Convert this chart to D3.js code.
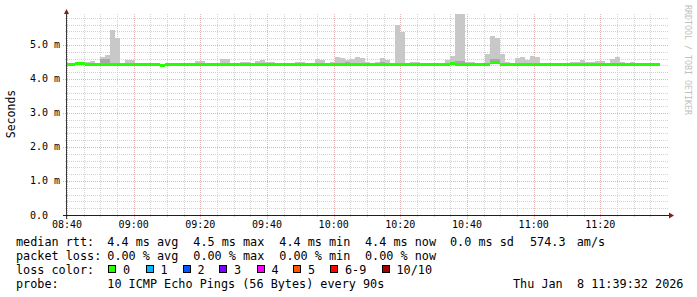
<!DOCTYPE html>
<html>
<head>
<meta charset="utf-8">
<script src="https://cdn.jsdelivr.net/npm/d3@7"></script>
<style>
  body { margin: 0; background: #fff; }
  text { font-family: "DejaVu Sans Mono", monospace; fill: #000; white-space: pre; }
</style>
</head>
<body>
<script>
// 90 s steps, first step starts at 08:39:24
const firstStep = [8, 39, 24];
const stepSeconds = 90;

// median rtt per step (ms)
const rttMedian = [
  4.43, 4.43, 4.44, 4.44, 4.43, 4.43, 4.42, 4.43, 4.43, 4.42,
  4.43, 4.42, 4.43, 4.43, 4.43, 4.43, 4.43, 4.43, 4.43, 4.41,
  4.43, 4.43, 4.43, 4.42, 4.43, 4.43, 4.43, 4.43, 4.43, 4.43,
  4.43, 4.43, 4.43, 4.43, 4.43, 4.43, 4.43, 4.43, 4.43, 4.43,
  4.43, 4.43, 4.43, 4.43, 4.42, 4.43, 4.43, 4.43, 4.43, 4.43,
  4.43, 4.43, 4.43, 4.43, 4.43, 4.43, 4.43, 4.43, 4.43, 4.43,
  4.43, 4.43, 4.42, 4.43, 4.43, 4.42, 4.43, 4.43, 4.42, 4.43,
  4.43, 4.43, 4.43, 4.43, 4.43, 4.43, 4.43, 4.46, 4.43, 4.43,
  4.42, 4.43, 4.43, 4.43, 4.43, 4.47, 4.47, 4.43, 4.43, 4.42,
  4.43, 4.43, 4.43, 4.43, 4.43, 4.43, 4.43, 4.43, 4.43, 4.43,
  4.43, 4.43, 4.43, 4.42, 4.43, 4.43, 4.43, 4.43, 4.43, 4.43,
  4.43, 4.43, 4.43, 4.43, 4.43, 4.43, 4.43, 4.43, 4.43
];

// highest ping per step (ms)
const rttMax = [
  4.45, 4.45, 4.45, 4.46, 4.49, 4.53, 4.46, 4.65, 4.71, 5.44,
  5.21, 4.45, 4.56, 4.56, 4.45, 4.45, 4.45, 4.46, 4.45, 4.45,
  4.48, 4.45, 4.45, 4.45, 4.45, 4.45, 4.54, 4.54, 4.45, 4.45,
  4.45, 4.59, 4.59, 4.45, 4.45, 4.50, 4.50, 4.45, 4.53, 4.56,
  4.50, 4.50, 4.45, 4.45, 4.45, 4.45, 4.50, 4.50, 4.45, 4.45,
  4.59, 4.56, 4.45, 4.50, 4.65, 4.62, 4.56, 4.59, 4.65, 4.62,
  4.50, 4.45, 4.50, 4.62, 4.56, 4.45, 5.59, 5.38, 4.45, 4.50,
  4.50, 4.45, 4.45, 4.45, 4.45, 4.45, 4.56, 4.68, 6.00, 6.00,
  4.50, 4.50, 4.45, 4.45, 4.74, 5.26, 5.21, 4.74, 4.50, 4.45,
  4.62, 4.65, 4.56, 4.68, 4.66, 4.45, 4.45, 4.45, 4.45, 4.45,
  4.45, 4.50, 4.50, 4.56, 4.50, 4.50, 4.53, 4.53, 4.45, 4.59,
  4.65, 4.50, 4.45, 4.50, 4.45, 4.45, 4.45, 4.45, 4.45
];

// steps with a denser (darker) smoke band, and its top (ms)
const darkSteps = [7, 8, 56, 63, 78, 79, 85, 86];
const darkTop = [4.59, 4.59, 4.50, 4.50, 4.52, 4.52, 4.59, 4.59];

const yTicks = [0, 1, 2, 3, 4, 5];
const lossLabels = ["0", "1", "2", "3", "4", "5", "6-9", "10/10"];
const lossColors = ["#26ff00", "#00b8ff", "#0059ff", "#7e00ff", "#ff00ff", "#ff5500", "#ff0000", "#a10000"];

const statsRtt = ["4.4 ms avg", "4.5 ms max", "4.4 ms min", "4.4 ms now", "0.0 ms sd", "574.3", "am/s"];
const statsLoss = ["0.00 % avg", "0.00 % max", "0.00 % min", "0.00 % now"];
const probeText = "10 ICMP Echo Pings (56 Bytes) every 90s";
const stampText = "Thu Jan  8 11:39:32 2026";

const width = 697, height = 297;
const plot = { left: 67, right: 667, top: 14, bottom: 215 };

const svg = d3.select("body").append("svg")
  .attr("width", width)
  .attr("height", height);

svg.append("rect").attr("width", width).attr("height", height).attr("fill", "#fff");

const t0 = new Date(2026, 0, 8, 8, 40, 0);
const t1 = new Date(2026, 0, 8, 11, 40, 0);
const xScale = d3.scaleTime().domain([t0, t1]).range([plot.left, plot.right]);
const yScale = d3.scaleLinear().domain([0, 5.91]).range([plot.bottom, plot.top]);

const start = new Date(2026, 0, 8, firstStep[0], firstStep[1], firstStep[2]);
const steps = rttMedian.map((m, i) => ({
  t: new Date(start.getTime() + i * stepSeconds * 1000),
  t2: new Date(start.getTime() + (i + 1) * stepSeconds * 1000),
  median: m,
  max: rttMax[i]
}));

// grid
const minorX = d3.timeMinute.every(5).range(t0, d3.timeMinute.offset(t1, 1));
const majorX = d3.timeMinute.every(20).range(t0, t1);
const minorY = d3.range(1, 30).map(i => i * 0.2).filter(v => Math.abs(v % 1) > 0.01 && Math.abs(v % 1 - 1) > 0.01);

const grid = svg.append("g").attr("shape-rendering", "crispEdges");
grid.selectAll("line.gx")
  .data(minorX.filter(d => d.getMinutes() % 20 !== 0))
  .enter().append("line")
    .attr("x1", d => Math.round(xScale(d)) + 0.5).attr("x2", d => Math.round(xScale(d)) + 0.5)
    .attr("y1", plot.top).attr("y2", plot.bottom + 2)
    .attr("stroke", "#d2d2d2").attr("stroke-dasharray", "1,1");
grid.selectAll("line.gy")
  .data(minorY)
  .enter().append("line")
    .attr("x1", plot.left - 2).attr("x2", plot.right + 1)
    .attr("y1", d => Math.round(yScale(d)) + 0.5).attr("y2", d => Math.round(yScale(d)) + 0.5)
    .attr("stroke", "#d2d2d2").attr("stroke-dasharray", "1,1");
grid.selectAll("line.mx")
  .data(majorX)
  .enter().append("line")
    .attr("x1", d => Math.round(xScale(d)) + 0.5).attr("x2", d => Math.round(xScale(d)) + 0.5)
    .attr("y1", plot.top).attr("y2", plot.bottom + 4)
    .attr("stroke", "#e4b4b4").attr("stroke-dasharray", "1,1");
grid.selectAll("line.my")
  .data(yTicks.filter(v => v > 0))
  .enter().append("line")
    .attr("x1", plot.left - 4).attr("x2", plot.right + 1)
    .attr("y1", d => Math.round(yScale(d)) + 0.5).attr("y2", d => Math.round(yScale(d)) + 0.5)
    .attr("stroke", "#e4b4b4").attr("stroke-dasharray", "1,1");

// smoke + median
svg.append("clipPath").attr("id", "plotclip")
  .append("rect")
    .attr("x", plot.left).attr("y", plot.top)
    .attr("width", plot.right - plot.left).attr("height", plot.bottom - plot.top);

const data = svg.append("g").attr("clip-path", "url(#plotclip)").attr("shape-rendering", "crispEdges");

data.selectAll("rect.smoke")
  .data(steps)
  .enter().append("rect")
    .attr("x", d => xScale(d.t))
    .attr("width", d => xScale(d.t2) - xScale(d.t))
    .attr("y", d => yScale(d.max))
    .attr("height", d => Math.max(0, yScale(d.median - 0.04) - yScale(d.max)))
    .attr("fill", "#c8c8c8");

data.selectAll("rect.dark")
  .data(darkSteps)
  .enter().append("rect")
    .attr("x", k => xScale(steps[k].t))
    .attr("width", k => xScale(steps[k].t2) - xScale(steps[k].t))
    .attr("y", (k, i) => yScale(darkTop[i]))
    .attr("height", (k, i) => Math.max(0, yScale(steps[k].median) - yScale(darkTop[i])))
    .attr("fill", "#a8a8a8");

data.selectAll("rect.median")
  .data(steps)
  .enter().append("rect")
    .attr("x", d => xScale(d.t))
    .attr("width", d => xScale(d.t2) - xScale(d.t))
    .attr("y", d => yScale(d.median) - 1.5)
    .attr("height", 3)
    .attr("fill", lossColors[0]);

// axes
const axes = svg.append("g").attr("shape-rendering", "crispEdges");
axes.append("line")
  .attr("x1", plot.left - 0.5).attr("x2", plot.left - 0.5)
  .attr("y1", plot.bottom + 4).attr("y2", plot.top - 2)
  .attr("stroke", "#3a3a3a");
axes.append("line")
  .attr("x1", plot.left - 4).attr("x2", plot.right + 2)
  .attr("y1", plot.bottom + 0.5).attr("y2", plot.bottom + 0.5)
  .attr("stroke", "#1f1f1f");

svg.append("path")
  .attr("d", `M${plot.left - 3},${plot.top} L${plot.left + 2},${plot.top} L${plot.left - 0.5},${plot.top - 5} Z`)
  .attr("fill", "#801f1f");
svg.append("path")
  .attr("d", `M${plot.right + 2},${plot.bottom - 2.5} L${plot.right + 2},${plot.bottom + 3.5} L${plot.right + 7},${plot.bottom + 0.5} Z`)
  .attr("fill", "#801f1f");

// tick labels
svg.selectAll("text.ylab")
  .data(yTicks)
  .enter().append("text")
    .attr("x", 30)
    .attr("y", d => yScale(d) + 3.5)
    .attr("font-size", "10px")
    .text(d => d === 0 ? "0.0" : `${d.toFixed(1)} m`);

const timeFmt = d3.timeFormat("%H:%M");
svg.selectAll("text.xlab")
  .data(majorX)
  .enter().append("text")
    .attr("x", d => xScale(d))
    .attr("y", 228)
    .attr("text-anchor", "middle")
    .attr("font-size", "10px")
    .text(timeFmt);

svg.append("text")
  .attr("transform", "translate(15,114) rotate(-90)")
  .attr("text-anchor", "middle")
  .attr("font-size", "11.5px")
  .text("Seconds");

svg.append("text")
  .attr("transform", "translate(685,5) rotate(90)")
  .attr("font-size", "8.3px")
  .style("fill", "#c0c0c0")
  .text("RRDTOOL / TOBI OETIKER");

// legend
const legend = svg.append("g").attr("font-size", "11.8px");
const rttX = [107.3, 193.3, 279.3, 365, 450, 530, 576.7];
legend.append("text").attr("x", 16).attr("y", 245.5).text("median rtt:");
statsRtt.forEach((s, i) => legend.append("text").attr("x", rttX[i]).attr("y", 245.5).text(s));
legend.append("text").attr("x", 16).attr("y", 259.5).text("packet loss:");
statsLoss.forEach((s, i) => legend.append("text").attr("x", rttX[i]).attr("y", 259.5).text(s));
legend.append("text").attr("x", 16).attr("y", 273.5).text("loss color:");

const boxX = [108, 145.5, 182.5, 219, 256.5, 293, 330, 381.5];
legend.selectAll("rect.box")
  .data(lossColors)
  .enter().append("rect")
    .attr("x", (d, i) => Math.round(boxX[i]) + 0.5)
    .attr("y", 265.5)
    .attr("width", 7).attr("height", 7)
    .attr("fill", d => d)
    .attr("stroke", "#000").attr("stroke-width", 1)
    .attr("shape-rendering", "crispEdges");
legend.selectAll("text.loss")
  .data(lossLabels)
  .enter().append("text")
    .attr("x", (d, i) => boxX[i] + 15)
    .attr("y", 273.5)
    .text(d => d);

legend.append("text").attr("x", 16).attr("y", 287.5).text("probe:");
legend.append("text").attr("x", 107.3).attr("y", 287.5).text(probeText);
legend.append("text").attr("x", 513).attr("y", 287.5).text(stampText);
</script>
</body>
</html>
